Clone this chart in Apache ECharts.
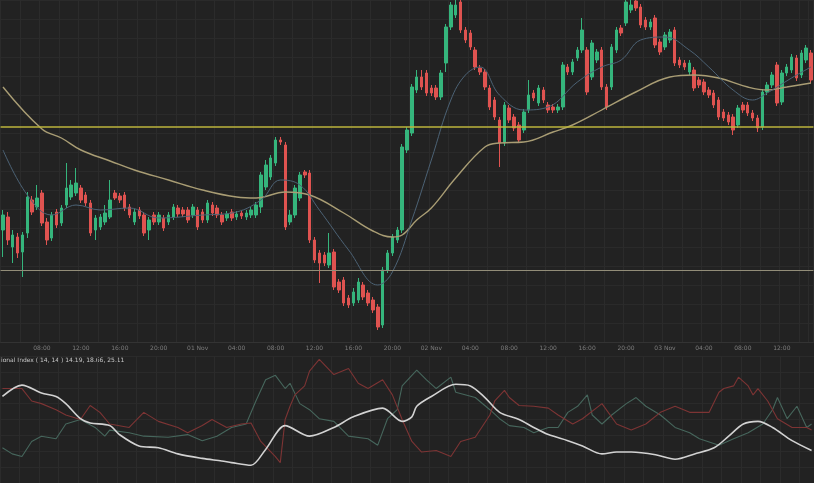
<!DOCTYPE html>
<html>
<head>
<meta charset="utf-8">
<script src="https://cdn.jsdelivr.net/npm/echarts@6/dist/echarts.min.js"></script>
<style>
html,body{margin:0;padding:0;background:#222222;}
#chart{width:814px;height:483px;}
</style>
</head>
<body>
<div id="chart"></div>
<script>
// ---- data ----
// candle: [open, close, low, high]
const candles = [
[1.0670,1.0685,1.0643,1.0690],[1.0683,1.0660,1.0655,1.0688],[1.0653,1.0665,1.0637,1.0670],[1.0663,1.0647,1.0642,1.0667],
[1.0648,1.0665,1.0623,1.0668],[1.0667,1.0703,1.0662,1.0708],[1.0700,1.0688,1.0685,1.0704],[1.0693,1.0702,1.0690,1.0715],
[1.0707,1.0677,1.0674,1.0710],[1.0678,1.0660,1.0655,1.0682],[1.0662,1.0685,1.0659,1.0688],[1.0688,1.0675,1.0672,1.0691],
[1.0677,1.0692,1.0674,1.0695],[1.0695,1.0712,1.0692,1.0737],[1.0703,1.0715,1.0700,1.0720],[1.0707,1.0717,1.0704,1.0732],
[1.0712,1.0700,1.0697,1.0715],[1.0705,1.0697,1.0694,1.0708],[1.0697,1.0667,1.0664,1.0700],[1.0670,1.0682,1.0660,1.0685],
[1.0673,1.0683,1.0670,1.0686],[1.0678,1.0687,1.0675,1.0695],[1.0683,1.0700,1.0681,1.0720],[1.0707,1.0702,1.0700,1.0710],
[1.0704,1.0700,1.0697,1.0707],[1.0705,1.0692,1.0689,1.0708],[1.0693,1.0685,1.0682,1.0696],[1.0678,1.0688,1.0675,1.0691],
[1.0690,1.0684,1.0681,1.0693],[1.0685,1.0667,1.0664,1.0688],[1.0670,1.0680,1.0660,1.0683],[1.0685,1.0678,1.0675,1.0688],
[1.0678,1.0685,1.0675,1.0688],[1.0682,1.0672,1.0669,1.0685],[1.0678,1.0685,1.0675,1.0688],[1.0683,1.0693,1.0680,1.0696],
[1.0692,1.0686,1.0683,1.0695],[1.0690,1.0686,1.0683,1.0693],[1.0690,1.0680,1.0677,1.0693],[1.0685,1.0693,1.0682,1.0696],
[1.0690,1.0673,1.0670,1.0693],[1.0688,1.0680,1.0677,1.0691],[1.0680,1.0697,1.0677,1.0700],[1.0695,1.0687,1.0684,1.0698],
[1.0692,1.0685,1.0682,1.0695],[1.0685,1.0678,1.0675,1.0688],[1.0682,1.0686,1.0679,1.0689],[1.0688,1.0682,1.0679,1.0691],
[1.0683,1.0686,1.0680,1.0689],[1.0687,1.0684,1.0681,1.0690],[1.0683,1.0687,1.0680,1.0690],[1.0685,1.0690,1.0682,1.0693],
[1.0685,1.0695,1.0682,1.0698],[1.0693,1.0725,1.0687,1.0728],[1.0713,1.0735,1.0710,1.0740],[1.0723,1.0742,1.0720,1.0745],
[1.0737,1.0760,1.0734,1.0763],[1.0760,1.0758,1.0755,1.0763],[1.0755,1.0673,1.0670,1.0758],[1.0678,1.0685,1.0675,1.0690],
[1.0685,1.0712,1.0682,1.0715],[1.0702,1.0725,1.0699,1.0728],[1.0728,1.0725,1.0722,1.0730],[1.0727,1.0660,1.0657,1.0730],
[1.0660,1.0640,1.0637,1.0663],[1.0647,1.0637,1.0617,1.0650],[1.0645,1.0637,1.0634,1.0648],[1.0635,1.0647,1.0632,1.0667],
[1.0648,1.0613,1.0610,1.0651],[1.0618,1.0610,1.0607,1.0621],[1.0620,1.0597,1.0594,1.0623],[1.0602,1.0595,1.0592,1.0605],
[1.0597,1.0608,1.0594,1.0612],[1.0600,1.0618,1.0597,1.0622],[1.0615,1.0603,1.0600,1.0618],[1.0607,1.0597,1.0594,1.0610],
[1.0600,1.0590,1.0587,1.0603],[1.0593,1.0573,1.0570,1.0596],[1.0575,1.0630,1.0572,1.0633],[1.0630,1.0647,1.0627,1.0650],
[1.0647,1.0663,1.0644,1.0666],[1.0660,1.0670,1.0657,1.0673],[1.0670,1.0753,1.0667,1.0756],[1.0750,1.0770,1.0747,1.0773],
[1.0767,1.0813,1.0764,1.0816],[1.0810,1.0823,1.0807,1.0830],[1.0823,1.0813,1.0810,1.0830],[1.0827,1.0807,1.0804,1.0830],
[1.0812,1.0807,1.0804,1.0815],[1.0812,1.0803,1.0800,1.0815],[1.0803,1.0827,1.0800,1.0830],[1.0837,1.0873,1.0828,1.0876],
[1.0873,1.0895,1.0870,1.0898],[1.0885,1.0895,1.0882,1.0900],[1.0898,1.0870,1.0867,1.0910],[1.0870,1.0860,1.0857,1.0873],
[1.0867,1.0853,1.0850,1.0870],[1.0850,1.0833,1.0830,1.0853],[1.0832,1.0828,1.0825,1.0835],[1.0828,1.0813,1.0810,1.0831],
[1.0812,1.0793,1.0790,1.0815],[1.0800,1.0783,1.0780,1.0803],[1.0780,1.0757,1.0733,1.0783],[1.0757,1.0795,1.0754,1.0798],
[1.0792,1.0780,1.0777,1.0795],[1.0783,1.0772,1.0769,1.0786],[1.0775,1.0760,1.0757,1.0778],[1.0770,1.0788,1.0767,1.0791],
[1.0790,1.0805,1.0787,1.0820],[1.0807,1.0802,1.0799,1.0810],[1.0797,1.0812,1.0794,1.0815],[1.0810,1.0800,1.0797,1.0813],
[1.0795,1.0790,1.0787,1.0798],[1.0793,1.0790,1.0787,1.0796],[1.0790,1.0793,1.0787,1.0796],[1.0793,1.0835,1.0790,1.0838],
[1.0833,1.0828,1.0825,1.0836],[1.0828,1.0838,1.0825,1.0841],[1.0842,1.0850,1.0839,1.0853],[1.0850,1.0870,1.0847,1.0882],
[1.0850,1.0808,1.0805,1.0853],[1.0823,1.0857,1.0820,1.0860],[1.0840,1.0848,1.0837,1.0851],[1.0850,1.0813,1.0810,1.0853],
[1.0813,1.0793,1.0790,1.0816],[1.0813,1.0853,1.0810,1.0856],[1.0850,1.0870,1.0847,1.0873],[1.0872,1.0867,1.0864,1.0875],
[1.0877,1.0898,1.0874,1.0900],[1.0890,1.0895,1.0887,1.0900],[1.0899,1.0892,1.0889,1.0905],[1.0893,1.0875,1.0872,1.0896],
[1.0880,1.0873,1.0870,1.0883],[1.0873,1.0878,1.0870,1.0881],[1.0882,1.0855,1.0852,1.0885],[1.0858,1.0848,1.0845,1.0861],
[1.0853,1.0865,1.0850,1.0868],[1.0860,1.0868,1.0857,1.0871],[1.0870,1.0837,1.0834,1.0873],[1.0840,1.0835,1.0832,1.0843],
[1.0837,1.0833,1.0830,1.0840],[1.0828,1.0837,1.0825,1.0840],[1.0830,1.0812,1.0809,1.0833],[1.0820,1.0815,1.0812,1.0823],
[1.0818,1.0808,1.0805,1.0821],[1.0810,1.0805,1.0802,1.0813],[1.0807,1.0795,1.0792,1.0810],[1.0800,1.0783,1.0780,1.0803],
[1.0788,1.0782,1.0779,1.0791],[1.0785,1.0778,1.0775,1.0788],[1.0783,1.0770,1.0765,1.0786],[1.0775,1.0792,1.0772,1.0795],
[1.0795,1.0790,1.0787,1.0798],[1.0795,1.0787,1.0784,1.0798],[1.0787,1.0782,1.0779,1.0790],[1.0782,1.0772,1.0768,1.0785],
[1.0773,1.0808,1.0770,1.0811],[1.0808,1.0815,1.0805,1.0818],[1.0815,1.0825,1.0812,1.0828],[1.0835,1.0797,1.0794,1.0838],
[1.0798,1.0827,1.0795,1.0830],[1.0827,1.0833,1.0824,1.0836],[1.0830,1.0843,1.0827,1.0846],[1.0842,1.0822,1.0819,1.0845],
[1.0825,1.0847,1.0822,1.0850],[1.0840,1.0852,1.0837,1.0855],[1.0847,1.0820,1.0817,1.0850]
];

// moving averages as [candle index, price]
const maSlow = [[0,1.0813],[8,1.0771],[12,1.0762],[16,1.0750],[22,1.0739],[27,1.0730],[34,1.0720],[41,1.0710],
[48,1.0703],[52,1.0702],[58,1.0708],[63,1.0705],[70,1.0687],[76,1.0669],[80,1.0663],[82,1.0665],[85,1.0680],
[88,1.0692],[93,1.0722],[99,1.0753],[102,1.0757],[107,1.0758],[113,1.0768],[117,1.0775],[123,1.0790],[130,1.0808],
[137,1.0823],[142,1.0825],[147,1.0822],[153,1.0813],[157,1.0810],[161,1.0813],[166,1.0817]];
const maFast = [[0,1.0750],[5,1.0705],[10,1.0685],[15,1.0695],[20,1.0690],[26,1.0692],[32,1.0682],[41,1.0685],
[47,1.0687],[53,1.0700],[57,1.0720],[61,1.0715],[65,1.0690],[71,1.0650],[77,1.0615],[80,1.0628],[84,1.0680],
[88,1.0740],[92,1.0800],[95,1.0825],[98,1.0833],[102,1.0805],[107,1.0790],[112,1.0793],[118,1.0818],[123,1.0833],
[127,1.0840],[131,1.0860],[136,1.0863],[141,1.0850],[145,1.0833],[150,1.0810],[154,1.0800],[157,1.0807],[162,1.0822],[166,1.0833]];

// horizontal levels
const levels = [1.0773, 1.0630];

// Directional Index as [candle index, value]
const adx = [[0,32.7],[4,37.0],[8,34.0],[11,32.7],[13,30.0],[16,24.3],[18,22.7],[22,21.7],[24,18.3],[28,14.0],[32,13.3],
[36,11.0],[41,9.3],[45,8.3],[47,7.7],[51,6.7],[54,12.7],[58,21.7],[63,17.7],[68,21.0],[72,25.0],[78,28.3],[82,23.3],
[84,25.0],[85,29.0],[88,32.7],[93,37.3],[96,36.7],[99,32.3],[102,26.7],[106,24.0],[109,21.0],[112,18.3],[116,16.0],
[119,14.0],[123,11.0],[126,11.7],[129,11.7],[134,10.7],[138,9.0],[142,11.0],[146,13.3],[149,17.7],[152,22.3],[155,23.3],
[158,21.0],[162,16.0],[166,12.3]];
const diMinus = [[0,35.7],[4,35.7],[6,31.0],[8,30.0],[11,27.7],[13,25.7],[16,24.0],[18,29.3],[20,26.7],[22,22.3],[26,21.0],
[29,26.7],[32,23.3],[36,21.0],[38,19.0],[41,21.7],[43,24.0],[46,21.0],[49,22.3],[51,22.7],[53,15.7],[56,10.0],[57,7.7],
[58,24.0],[59,29.0],[60,33.3],[62,36.7],[63,42.3],[65,46.7],[68,41.0],[71,43.3],[73,37.7],[75,35.7],[78,39.0],[80,33.3],
[82,24.0],[84,15.7],[86,11.7],[89,12.3],[92,10.0],[94,15.7],[97,17.3],[100,25.7],[101,31.0],[103,35.0],[104,32.3],
[106,29.3],[109,29.0],[112,28.3],[114,25.7],[117,22.3],[119,24.3],[123,30.0],[126,22.3],[129,20.0],[132,22.3],[135,26.7],
[138,29.0],[141,26.7],[145,26.7],[147,34.3],[148,35.7],[150,36.7],[151,40.0],[153,36.7],[154,33.3],[155,35.7],[157,31.0],
[159,24.3],[162,21.0],[165,21.0],[166,20.0]];
const diPlus = [[0,13.3],[2,11.0],[4,10.0],[6,15.7],[8,17.7],[11,16.7],[13,22.3],[16,24.0],[19,21.0],[21,17.7],[22,20.0],
[26,19.0],[29,17.7],[34,17.3],[38,18.3],[41,16.0],[44,17.7],[47,21.0],[50,22.3],[52,31.0],[54,39.0],[56,40.7],[58,35.7],
[59,37.7],[61,30.0],[63,27.7],[65,24.3],[68,23.3],[71,17.7],[75,16.7],[77,14.3],[79,24.3],[81,27.7],[82,36.7],[84,40.7],
[85,42.7],[87,39.0],[89,35.7],[92,40.0],[93,34.3],[97,32.3],[100,27.7],[102,24.3],[104,21.7],[107,21.0],[109,19.0],
[112,21.0],[114,21.0],[116,26.7],[118,29.0],[120,33.3],[121,25.7],[123,22.3],[125,25.7],[128,30.0],[130,32.3],[132,29.0],
[135,25.7],[138,21.0],[141,19.0],[143,16.7],[147,14.3],[150,16.7],[153,19.0],[156,22.3],[158,27.7],[159,32.3],[161,24.3],
[163,29.0],[165,21.0],[166,22.3]];

// x tick labels, one every 8 candles (starting at candle 8)
const tickLabels = ["08:00","12:00","16:00","20:00","01 Nov","04:00","08:00","12:00","16:00","20:00",
"02 Nov","04:00","08:00","12:00","16:00","20:00","03 Nov","04:00","08:00","12:00"];
const tickEvery = 8;

const indicatorTitle = "Directional Index ( 14, 14 ) 14.19, 18.66, 25.11";

// ---- chart ----
const categories = candles.map((_, i) => "c" + i);
const up = '#35b57c', down = '#df5350';

const chart = echarts.init(document.getElementById('chart'), null, {renderer: 'canvas'});
chart.setOption({
  animation: false,
  backgroundColor: '#222222',
  grid: [
    {left: 0, right: 0, top: 0, bottom: 141},
    {left: 0, right: 0, top: 356, bottom: -17}
  ],
  xAxis: [
    {type: 'category', gridIndex: 0, data: categories, boundaryGap: true,
     axisLine: {show: true, lineStyle: {color: '#333333'}}, axisTick: {show: false},
     axisLabel: {show: true, interval: 0, color: '#7d7d7d', fontSize: 6, margin: 3, fontFamily: 'DejaVu Sans',
       formatter: (v, i) => (i > 0 && i % tickEvery === 0 && tickLabels[i / tickEvery - 1]) ? tickLabels[i / tickEvery - 1] : ''},
     splitLine: {show: true, interval: 3, lineStyle: {color: '#2b2b2b'}}},
    {type: 'category', gridIndex: 1, data: categories, boundaryGap: true,
     axisLine: {show: true, lineStyle: {color: '#333333'}}, axisTick: {show: false}, axisLabel: {show: false},
     splitLine: {show: true, interval: 3, lineStyle: {color: '#2b2b2b'}}}
  ],
  yAxis: [
    {type: 'value', gridIndex: 0, min: 1.0558, max: 1.0900, interval: 0.0019,
     axisLine: {show: false}, axisTick: {show: false}, axisLabel: {show: false},
     splitLine: {show: true, lineStyle: {color: '#2a2a2a'}}},
    {type: 'value', gridIndex: 1, min: 0, max: 48, interval: 6,
     axisLine: {show: false}, axisTick: {show: false}, axisLabel: {show: false},
     splitLine: {show: true, lineStyle: {color: '#2a2a2a'}}}
  ],
  graphic: [
    {type: 'text', x: -17, y: 357, silent: true,
     style: {text: indicatorTitle, fill: '#c8c8c8', font: '6px "DejaVu Sans"'}}
  ],
  series: [
    {type: 'candlestick', xAxisIndex: 0, yAxisIndex: 0, data: candles, barWidth: 3,
     itemStyle: {color: up, color0: down, borderColor: up, borderColor0: down, borderWidth: 1}},
    {type: 'line', xAxisIndex: 0, yAxisIndex: 0, data: maSlow, smooth: 0.4, showSymbol: false,
     lineStyle: {color: '#a99d74', width: 1.4},
     markLine: {silent: true, symbol: 'none', precision: 4, label: {show: false},
       data: [
         {yAxis: levels[0], lineStyle: {color: '#bdb53c', width: 1.6, type: 'solid'}},
         {yAxis: levels[1], lineStyle: {color: '#928d78', width: 1, type: 'solid'}}
       ]}},
    {type: 'line', xAxisIndex: 0, yAxisIndex: 0, data: maFast, smooth: 0.4, showSymbol: false,
     lineStyle: {color: '#4c6275', width: 1}},
    {type: 'line', xAxisIndex: 1, yAxisIndex: 1, data: diPlus, showSymbol: false,
     lineStyle: {color: '#46665c', width: 1.1}},
    {type: 'line', xAxisIndex: 1, yAxisIndex: 1, data: diMinus, showSymbol: false,
     lineStyle: {color: '#7d3434', width: 1.1}},
    {type: 'line', xAxisIndex: 1, yAxisIndex: 1, data: adx, smooth: 0.3, showSymbol: false,
     lineStyle: {color: '#d2d2d2', width: 1.6}}
  ]
});
</script>
</body>
</html>
